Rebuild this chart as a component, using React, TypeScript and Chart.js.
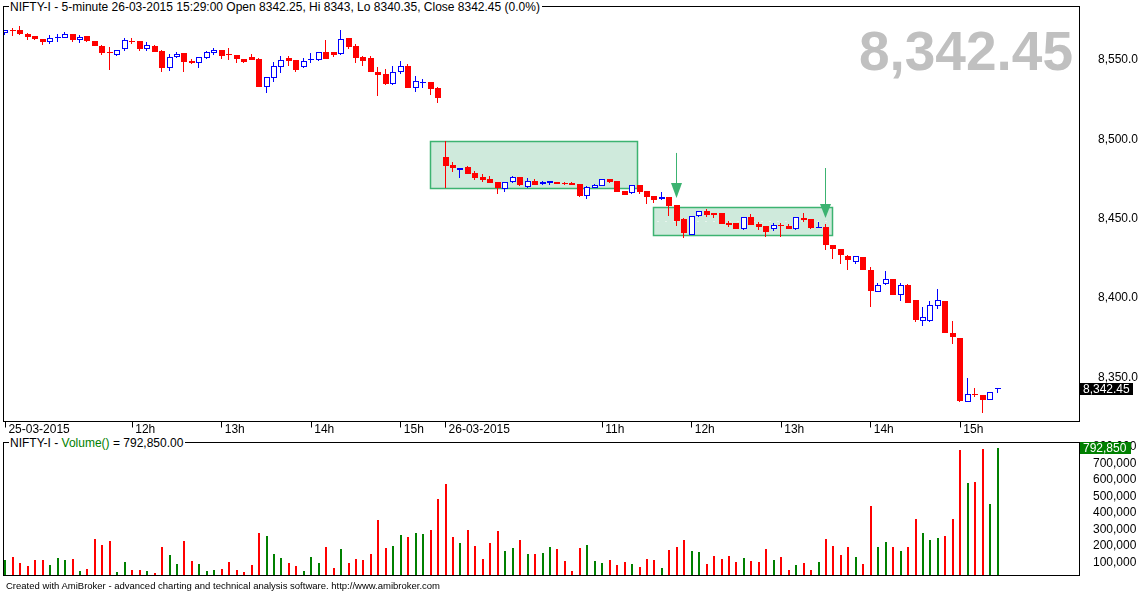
import React, { useEffect, useRef } from "react";
import { Chart, registerables } from "chart.js";

Chart.register(...registerables);

const FONT = '"Liberation Sans", Arial, Helvetica, sans-serif';
const RED = "#ff0000";
const BLUE = "#0000ff";
const GREEN = "#008000";
const BOX_FILL = "#cfeadc";
const BOX_LINE = "#3cb371";

const SYMBOL = "NIFTY-I";
const INTERVAL = "5-minute";
const LAST_TIME = "26-03-2015 15:29:00";

const OPEN = [
  8566.8, 8568.6, 8568.9, 8566.4, 8565.1, 8563.2, 8561.5, 8564.1, 8564.1, 8566.4,
  8562.6, 8565.1, 8561.8, 8559.0, 8555.2, 8553.0, 8556.7, 8561.8, 8561.8, 8556.7,
  8558.9, 8555.9, 8544.7, 8551.7, 8554.2, 8549.6, 8547.9, 8551.5, 8554.6, 8556.3,
  8553.4, 8553.2, 8550.6, 8551.9, 8550.6, 8533.2, 8538.4, 8545.8, 8551.3, 8550.0,
  8545.4, 8549.8, 8549.8, 8554.8, 8555.0, 8553.6, 8563.9, 8558.8, 8551.9, 8551.3,
  8542.4, 8541.2, 8534.7, 8542.2, 8546.2, 8532.6, 8535.5, 8536.1, 8532.3, 8488.6,
  8483.8, 8480.6, 8482.5, 8478.8, 8476.2, 8475.0, 8473.1, 8468.5, 8472.9, 8476.0,
  8470.1, 8473.5, 8471.6, 8472.7, 8473.1, 8472.3, 8472.4, 8471.6, 8464.5, 8469.5,
  8470.8, 8475.0, 8473.5, 8467.4, 8465.9, 8471.0, 8467.4, 8464.0, 8462.2, 8463.6,
  8458.6, 8449.7, 8439.9, 8451.4, 8454.8, 8453.5, 8453.5, 8447.4, 8447.2, 8443.7,
  8451.0, 8446.6, 8445.3, 8443.7, 8445.9, 8445.3, 8443.7, 8450.4, 8449.7, 8444.3,
  8444.7, 8433.4, 8430.8, 8426.4, 8422.8, 8425.8, 8417.6, 8403.9, 8408.6, 8411.7,
  8401.6, 8408.1, 8398.7, 8385.6, 8385.6, 8395.1, 8398.0, 8377.9, 8374.7, 8334.6,
  8339.2, 8338.8, 8335.8, 8342.25,
];

const HIGH = [
  8569.2, 8570.0, 8571.4, 8567.2, 8565.3, 8563.4, 8565.8, 8566.2, 8567.8, 8566.6,
  8565.6, 8565.3, 8562.0, 8559.2, 8558.4, 8556.5, 8563.7, 8563.7, 8562.0, 8561.1,
  8559.2, 8556.1, 8553.8, 8555.2, 8554.4, 8550.4, 8551.9, 8555.4, 8557.4, 8556.5,
  8557.4, 8553.4, 8550.8, 8553.8, 8551.0, 8539.3, 8548.5, 8552.5, 8552.5, 8550.2,
  8551.5, 8554.2, 8555.0, 8562.6, 8555.2, 8568.9, 8564.1, 8560.1, 8552.5, 8552.5,
  8545.8, 8544.1, 8546.2, 8549.4, 8547.5, 8539.9, 8537.8, 8536.3, 8532.8, 8498.9,
  8485.5, 8481.9, 8483.0, 8480.0, 8477.9, 8476.7, 8473.3, 8473.1, 8476.7, 8476.2,
  8475.4, 8475.0, 8473.7, 8473.7, 8473.3, 8473.3, 8472.9, 8471.8, 8470.8, 8471.8,
  8475.2, 8475.2, 8473.7, 8467.6, 8471.2, 8471.2, 8467.6, 8464.2, 8466.6, 8463.8,
  8458.8, 8450.2, 8451.6, 8454.8, 8456.1, 8453.7, 8453.7, 8448.5, 8447.4, 8451.0,
  8452.7, 8448.1, 8445.5, 8447.2, 8447.0, 8446.6, 8451.0, 8453.5, 8449.9, 8447.9,
  8446.6, 8433.6, 8431.0, 8427.0, 8426.6, 8426.0, 8419.3, 8409.2, 8417.0, 8411.9,
  8409.2, 8408.8, 8398.9, 8394.5, 8398.0, 8405.6, 8398.2, 8385.4, 8374.9, 8349.7,
  8343.2, 8339.0, 8340.7, 8343,
];

const LOW = [
  8565.8, 8565.1, 8566.0, 8562.6, 8562.9, 8559.7, 8559.9, 8561.1, 8564.0, 8561.5,
  8560.9, 8561.6, 8558.8, 8553.4, 8543.7, 8552.8, 8555.7, 8559.9, 8555.9, 8555.7,
  8555.0, 8542.6, 8543.3, 8551.5, 8542.6, 8547.7, 8544.7, 8550.4, 8553.2, 8550.4,
  8550.0, 8548.3, 8547.9, 8550.0, 8533.0, 8529.0, 8536.3, 8542.0, 8546.4, 8542.2,
  8545.2, 8547.9, 8549.6, 8550.6, 8551.7, 8553.4, 8556.7, 8548.3, 8546.2, 8542.4,
  8527.3, 8534.2, 8534.5, 8541.2, 8532.4, 8530.0, 8532.6, 8527.9, 8522.7, 8469.5,
  8479.6, 8475.8, 8478.1, 8474.5, 8473.3, 8472.5, 8465.5, 8467.0, 8472.7, 8470.4,
  8469.1, 8471.2, 8471.4, 8471.4, 8471.8, 8471.2, 8471.2, 8463.6, 8462.6, 8469.3,
  8470.6, 8472.7, 8466.8, 8464.7, 8465.7, 8465.7, 8459.2, 8460.0, 8462.0, 8451.6,
  8445.3, 8438.0, 8439.5, 8451.2, 8451.2, 8450.6, 8446.6, 8444.9, 8443.2, 8443.0,
  8445.8, 8442.8, 8438.2, 8442.4, 8438.6, 8443.2, 8443.0, 8448.1, 8443.4, 8443.9,
  8430.2, 8424.5, 8421.4, 8417.6, 8421.4, 8417.4, 8394.5, 8403.7, 8408.4, 8401.8,
  8398.3, 8396.8, 8385.0, 8382.5, 8385.0, 8393.0, 8377.7, 8370.7, 8334.6, 8334.4,
  8337.3, 8327.6, 8335.4, 8340.35,
];

const CLOSE = [
  8568.9, 8568.3, 8566.2, 8564.7, 8563.0, 8561.5, 8564.1, 8564.7, 8566.4, 8562.6,
  8564.7, 8561.8, 8559.0, 8554.2, 8554.6, 8556.3, 8562.6, 8561.3, 8556.7, 8559.3,
  8555.2, 8544.7, 8551.7, 8553.8, 8548.9, 8547.9, 8551.7, 8555.2, 8556.3, 8552.5,
  8553.0, 8550.4, 8548.9, 8550.2, 8533.2, 8539.1, 8546.2, 8549.8, 8549.6, 8543.7,
  8549.2, 8550.2, 8554.8, 8550.8, 8553.4, 8563.0, 8558.4, 8551.5, 8549.6, 8542.6,
  8540.5, 8534.9, 8542.2, 8546.0, 8532.6, 8536.6, 8535.9, 8531.7, 8526.2, 8483.4,
  8481.7, 8481.7, 8478.3, 8475.8, 8474.5, 8472.7, 8469.1, 8472.9, 8476.0, 8471.2,
  8473.7, 8471.4, 8472.9, 8473.5, 8472.0, 8472.1, 8471.4, 8464.5, 8469.7, 8471.0,
  8475.0, 8473.3, 8467.0, 8464.9, 8471.0, 8467.0, 8463.6, 8461.7, 8463.4, 8458.2,
  8448.7, 8440.7, 8451.4, 8454.6, 8452.3, 8452.3, 8446.8, 8446.0, 8443.4, 8450.8,
  8446.0, 8444.7, 8441.6, 8445.8, 8445.6, 8443.4, 8450.8, 8449.1, 8444.1, 8444.6,
  8433.4, 8431.0, 8427.0, 8423.9, 8426.4, 8417.6, 8404.4, 8407.9, 8411.7, 8402.0,
  8407.9, 8397.0, 8386.1, 8387.7, 8395.3, 8398.5, 8378.1, 8375.6, 8335.0, 8339.2,
  8338.9, 8335.6, 8340.5, 8342.45,
];

const VOLUME = [
  116000, 134000, 98000, 80000, 116000, 116000, 86000, 128000, 116000, 122000,
  50000, 62000, 243000, 207000, 231000, 44000, 104000, 56000, 56000, 50000,
  38000, 195000, 146000, 92000, 231000, 110000, 92000, 50000, 56000, 62000,
  104000, 56000, 44000, 86000, 279000, 261000, 152000, 128000, 98000, 80000,
  50000, 134000, 98000, 195000, 68000, 183000, 98000, 122000, 116000, 152000,
  358000, 189000, 201000, 267000, 255000, 279000, 273000, 297000, 484000, 575000,
  255000, 219000, 297000, 201000, 122000, 219000, 291000, 170000, 189000, 237000,
  152000, 152000, 158000, 195000, 183000, 110000, 50000, 189000, 207000, 110000,
  98000, 116000, 86000, 104000, 92000, 74000, 122000, 116000, 68000, 177000,
  195000, 237000, 170000, 164000, 92000, 140000, 122000, 140000, 104000, 128000,
  110000, 104000, 183000, 116000, 134000, 56000, 86000, 98000, 56000, 104000,
  243000, 201000, 146000, 195000, 134000, 92000, 442000, 195000, 225000, 195000,
  170000, 195000, 364000, 279000, 237000, 249000, 261000, 364000, 780000, 581000,
  587000, 786000, 454000, 792850,
];

const TIME_TICK_INDEX = [0, 17, 29, 41, 53, 59, 80, 92, 104, 116, 128];
const TIME_TICK_LABELS = ["25-03-2015", "12h", "13h", "14h", "15h", "26-03-2015", "11h", "12h", "13h", "14h", "15h"];
const PRICE_TICKS = [8350, 8400, 8450, 8500, 8550];
const VOLUME_TICKS = [100000, 200000, 300000, 400000, 500000, 600000, 700000, 800000];

// consolidation boxes (bar index range, price range)
const BOX_FROM = [56.9, 86.85];
const BOX_TO = [84.7, 110.8];
const BOX_HIGH = [8498.9, 8457.5];
const BOX_LOW = [8469.5, 8439.5];
const BOX_MIDLINE = [false, true];

// down arrows (bar index, tip / head / tail prices)
const ARROW_AT = [90, 110];
const ARROW_TIP = [8463.0, 8450.4];
const ARROW_HEAD = [8472.4, 8459.2];
const ARROW_TAIL = [8491.4, 8481.9];

const X_MIN = -0.255;
const X_MAX = 143.98;
const PRICE_MIN = 8322.07;
const PRICE_MAX = 8583.73;
const VOL_MIN = 22330;
const VOL_MAX = 825000;

const LAST = CLOSE.length - 1;
const IS_UP = CLOSE.map((c, i) => c >= OPEN[i]);

const fmt = (v: number, d: number) =>
  v.toLocaleString("en-US", { minimumFractionDigits: d, maximumFractionDigits: d });

const AXIS_W = 60.5;

// snaps the bar elements computed by Chart.js to whole pixels (crisp GDI-like look)
const snapPlugin = {
  id: "snap",
  afterDatasetsUpdate(chart: any) {
    chart.data.datasets.forEach((ds: any, di: number) => {
      const meta = chart.getDatasetMeta(di);
      const w = ds.barThickness;
      meta.data.forEach((el: any) => {
        const cx = Math.round(el.x);
        el.x = w % 2 === 1 ? cx - 0.5 : cx;
        let top = Math.round(Math.min(el.y, el.base));
        let bot = Math.round(Math.max(el.y, el.base));
        if (bot - top < 1) bot = top + 1;
        el.y = top;
        el.base = bot;
      });
    });
  },
};

const framePlugin = {
  id: "frame",
  afterDraw(chart: any) {
    const { ctx, chartArea: a } = chart;
    ctx.save();
    ctx.strokeStyle = "#000";
    ctx.lineWidth = 1;
    ctx.strokeRect(a.left, a.top, a.right - a.left, a.bottom - a.top);
    ctx.restore();
  },
};

const priceOverlay = {
  id: "priceOverlay",
  beforeDatasetsDraw(chart: any) {
    const { ctx, chartArea: a, scales } = chart;
    const x = scales.x;
    const y = scales.y;
    ctx.save();
    ctx.font = `bold 55px ${FONT}`;
    ctx.fillStyle = "#c0c0c0";
    ctx.textAlign = "right";
    ctx.textBaseline = "alphabetic";
    ctx.fillText(fmt(CLOSE[LAST], 2), a.right - 6.5, a.top + 63.5);

    BOX_FROM.forEach((f, k) => {
      const x0 = Math.round(x.getPixelForValue(f)) + 0.5;
      const x1 = Math.round(x.getPixelForValue(BOX_TO[k])) + 0.5;
      const y0 = Math.round(y.getPixelForValue(BOX_HIGH[k])) + 0.5;
      const y1 = Math.round(y.getPixelForValue(BOX_LOW[k])) + 0.5;
      ctx.fillStyle = BOX_FILL;
      ctx.fillRect(x0, y0, x1 - x0, y1 - y0);
      ctx.strokeStyle = BOX_LINE;
      ctx.lineWidth = 1.5;
      ctx.strokeRect(x0, y0, x1 - x0, y1 - y0);
      if (BOX_MIDLINE[k]) {
        const ym = Math.round(y.getPixelForValue((BOX_HIGH[k] + BOX_LOW[k]) / 2)) + 0.5;
        ctx.strokeStyle = "#ffffff";
        ctx.lineWidth = 1;
        ctx.setLineDash([1, 7]);
        ctx.beginPath();
        ctx.moveTo(x0 + 4, ym);
        ctx.lineTo(x1 - 2, ym);
        ctx.stroke();
        ctx.setLineDash([]);
      }
    });
    ctx.restore();
  },
  afterDatasetsDraw(chart: any) {
    const { ctx, scales } = chart;
    const x = scales.x;
    const y = scales.y;
    ctx.save();
    ARROW_AT.forEach((at, k) => {
      const xs = Math.round(x.getPixelForValue(at)) - 0.5;
      const tip = y.getPixelForValue(ARROW_TIP[k]);
      const head = y.getPixelForValue(ARROW_HEAD[k]);
      const tail = y.getPixelForValue(ARROW_TAIL[k]);
      ctx.strokeStyle = BOX_LINE;
      ctx.lineWidth = 1;
      ctx.beginPath();
      ctx.moveTo(xs, tail);
      ctx.lineTo(xs, head);
      ctx.stroke();
      ctx.fillStyle = BOX_LINE;
      ctx.beginPath();
      ctx.moveTo(xs - 5.5, head);
      ctx.lineTo(xs + 5.5, head);
      ctx.lineTo(xs, tip);
      ctx.closePath();
      ctx.fill();
    });
    ctx.restore();
  },
  afterDraw(chart: any) {
    const { ctx, chartArea: a, scales } = chart;
    const yy = scales.y.getPixelForValue(CLOSE[LAST]);
    ctx.save();
    ctx.fillStyle = "#000";
    ctx.fillRect(a.right + 0.5, Math.round(yy) - 6, 53, 12);
    ctx.fillStyle = "#fff";
    ctx.font = `12px ${FONT}`;
    ctx.textAlign = "left";
    ctx.textBaseline = "middle";
    ctx.fillText(fmt(CLOSE[LAST], 2), a.right + 3.5, Math.round(yy) + 0.5);
    ctx.restore();
  },
};

const volumeOverlay = {
  id: "volumeOverlay",
  afterDraw(chart: any) {
    const { ctx, chartArea: a, scales } = chart;
    const yy = scales.y.getPixelForValue(VOLUME[LAST]);
    ctx.save();
    ctx.fillStyle = GREEN;
    ctx.fillRect(a.right + 0.5, Math.round(yy) - 6, 51, 12);
    ctx.fillStyle = "#fff";
    ctx.font = `12px ${FONT}`;
    ctx.textAlign = "left";
    ctx.textBaseline = "middle";
    ctx.fillText(fmt(VOLUME[LAST], 0), a.right + 3.5, Math.round(yy) + 0.5);
    ctx.restore();
  },
};

const tickFont = { family: FONT, size: 12 };

function PriceChart() {
  const ref = useRef<HTMLCanvasElement | null>(null);
  useEffect(() => {
    if (!ref.current) return;
    const chart = new Chart(ref.current, {
      type: "bar",
      data: {
        datasets: [
          {
            label: "body",
            data: OPEN.map((o, i) => ({ x: i, y: [o, CLOSE[i]] })) as any,
            backgroundColor: IS_UP.map((u) => (u ? "#ffffff" : RED)),
            borderColor: IS_UP.map((u) => (u ? BLUE : RED)),
            borderWidth: IS_UP.map((u) => (u ? 1 : 0)),
            borderSkipped: false,
            barThickness: 6,
            minBarLength: 1,
            inflateAmount: 0,
            grouped: false,
            order: 1,
          } as any,
          {
            label: "wick",
            data: LOW.map((l, i) => ({ x: i, y: [l, HIGH[i]] })) as any,
            backgroundColor: IS_UP.map((u) => (u ? BLUE : RED)),
            borderWidth: 0,
            barThickness: 1,
            inflateAmount: 0,
            grouped: false,
            order: 2,
          } as any,
        ],
      },
      options: {
        responsive: false,
        animation: false,
        events: [],
        layout: { autoPadding: false, padding: { left: 3.5, top: 6.5, right: 0, bottom: 0 } },
        plugins: { legend: { display: false }, tooltip: { enabled: false } },
        scales: {
          x: {
            type: "linear",
            min: X_MIN,
            max: X_MAX,
            offset: false,
            afterBuildTicks: (s: any) => {
              s.ticks = TIME_TICK_INDEX.map((v) => ({ value: v }));
            },
            afterFit: (s: any) => {
              s.height = 18.5;
              s.paddingLeft = 0;
              s.paddingRight = 0;
            },
            ticks: {
              autoSkip: false,
              maxRotation: 0,
              minRotation: 0,
              align: "start",
              labelOffset: 3,
              padding: -5,
              color: "#000",
              font: tickFont,
              callback: (_v: any, i: number) => TIME_TICK_LABELS[i],
            },
            grid: {
              display: true,
              drawOnChartArea: false,
              drawTicks: true,
              tickLength: 6,
              color: "#000",
              offset: false,
            },
            border: { display: false },
          } as any,
          y: {
            type: "linear",
            position: "right",
            min: PRICE_MIN,
            max: PRICE_MAX,
            afterBuildTicks: (s: any) => {
              s.ticks = PRICE_TICKS.map((v) => ({ value: v }));
            },
            afterFit: (s: any) => {
              s.width = AXIS_W;
              s.paddingTop = 0;
              s.paddingBottom = 0;
            },
            ticks: {
              padding: 18.5,
              crossAlign: "near",
              color: "#000",
              font: tickFont,
              callback: (v: any) => fmt(Number(v), 1),
            },
            grid: { display: false, drawTicks: false, tickLength: 0 },
            border: { display: false },
          } as any,
        },
      },
      plugins: [snapPlugin, priceOverlay, framePlugin],
    });
    return () => chart.destroy();
  }, []);
  return (
    <canvas
      ref={ref}
      width={1140}
      height={440}
      style={{ position: "absolute", left: 0, top: 0, width: 1140, height: 440 }}
    />
  );
}

function VolumeChart() {
  const ref = useRef<HTMLCanvasElement | null>(null);
  useEffect(() => {
    if (!ref.current) return;
    const chart = new Chart(ref.current, {
      type: "bar",
      data: {
        datasets: [
          {
            label: "Volume",
            data: VOLUME.map((v, i) => ({ x: i, y: v })) as any,
            backgroundColor: IS_UP.map((u) => (u ? GREEN : RED)),
            borderWidth: 0,
            barThickness: 2,
            inflateAmount: 0,
            base: VOL_MIN,
            grouped: false,
          } as any,
        ],
      },
      options: {
        responsive: false,
        animation: false,
        events: [],
        layout: { autoPadding: false, padding: { left: 3.5, top: 6.5, right: 0, bottom: 17.5 } },
        plugins: { legend: { display: false }, tooltip: { enabled: false } },
        scales: {
          x: { type: "linear", min: X_MIN, max: X_MAX, offset: false, display: false } as any,
          y: {
            type: "linear",
            position: "right",
            min: VOL_MIN,
            max: VOL_MAX,
            afterBuildTicks: (s: any) => {
              s.ticks = VOLUME_TICKS.map((v) => ({ value: v }));
            },
            afterFit: (s: any) => {
              s.width = AXIS_W;
              s.paddingTop = 0;
              s.paddingBottom = 0;
            },
            ticks: {
              padding: 13.5,
              crossAlign: "near",
              color: "#000",
              font: tickFont,
              callback: (v: any) => fmt(Number(v), 0),
            },
            grid: { display: false, drawTicks: false, tickLength: 0 },
            border: { display: false },
          } as any,
        },
      },
      plugins: [snapPlugin, volumeOverlay, framePlugin],
    });
    return () => chart.destroy();
  }, []);
  return (
    <canvas
      ref={ref}
      width={1140}
      height={157}
      style={{ position: "absolute", left: 0, top: 436, width: 1140, height: 157 }}
    />
  );
}

export default function App() {
  const pct = (((CLOSE[LAST] - CLOSE[LAST - 1]) / CLOSE[LAST - 1]) * 100).toFixed(1);
  const title = `${SYMBOL} - ${INTERVAL} ${LAST_TIME} Open ${OPEN[LAST]}, Hi ${HIGH[LAST]}, Lo ${LOW[LAST]}, Close ${CLOSE[LAST]} (${pct}%)`;
  const labelStyle: React.CSSProperties = {
    position: "absolute",
    left: 9,
    font: `12px ${FONT}`,
    lineHeight: "14px",
    background: "#fff",
    padding: "0 2px 0 1px",
    whiteSpace: "nowrap",
    color: "#000",
  };
  return (
    <div
      style={{
        position: "absolute",
        left: 0,
        top: 0,
        width: 1140,
        height: 593,
        background: "#fff",
        overflow: "hidden",
      }}
    >
      <PriceChart />
      <VolumeChart />
      <div style={{ ...labelStyle, top: 0 }}>{title}</div>
      <div style={{ ...labelStyle, top: 436 }}>
        {SYMBOL} - <span style={{ color: GREEN }}>Volume()</span> = {fmt(VOLUME[LAST], 2)}
      </div>
      <div
        style={{
          position: "absolute",
          left: 6,
          top: 580,
          font: `9.5px ${FONT}`,
          lineHeight: "11px",
          whiteSpace: "nowrap",
          color: "#000",
        }}
      >
        Created with AmiBroker - advanced charting and technical analysis software. http://www.amibroker.com
      </div>
    </div>
  );
}
